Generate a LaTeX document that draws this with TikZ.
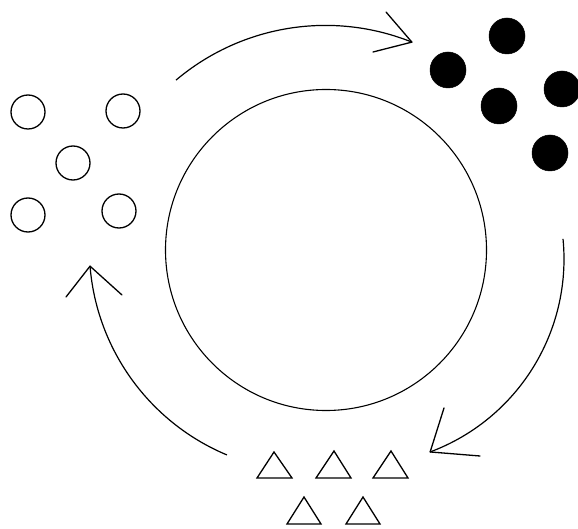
\documentclass[tikz,border=0pt]{standalone}
\tikzset{
  opencirc/.style={circle,draw=black,line width=1.3pt,minimum size=34pt,inner sep=0pt},
  fullcirc/.style={circle,fill=black,draw=black,line width=0.5pt,minimum size=36pt,inner sep=0pt},
  hub/.style={circle,draw=black,line width=1.1pt,minimum size=321pt,inner sep=0pt},
  tri/.style={draw=black,line width=1.3pt,line join=miter},
  flow/.style={draw=black,line width=1.2pt},
  barb/.style={draw=black,line width=1.3pt,line cap=round}
}
\begin{document}
\begin{tikzpicture}[x=1pt,y=-1pt]
\useasboundingbox (0,0) rectangle (578,529);
\fill[white] (0,0) rectangle (578,529);
% central circle
\node[hub] (C) at (326,250) {};
% open circles
\node[opencirc] (o1) at (28,112) {};
\node[opencirc] (o2) at (123,111) {};
\node[opencirc] (o3) at (73,163) {};
\node[opencirc] (o4) at (28,215) {};
\node[opencirc] (o5) at (119,211) {};
% filled circles
\node[fullcirc] (f1) at (507,36) {};
\node[fullcirc] (f2) at (448,70) {};
\node[fullcirc] (f3) at (499,106) {};
\node[fullcirc] (f4) at (562,89) {};
\node[fullcirc] (f5) at (550,153) {};
% triangles
\draw[tri] (257,478) -- (274,452) -- (292,478) -- cycle;
\draw[tri] (316,478) -- (334,451) -- (351,478) -- cycle;
\draw[tri] (373,478) -- (391,451) -- (408,478) -- cycle;
\draw[tri] (287,524) -- (304,497) -- (321,524) -- cycle;
\draw[tri] (346,524) -- (363,497) -- (380,524) -- cycle;
% arrow start points and tips
\coordinate (s1) at ({325.5+231.6*cos(-130.2)},{257+231.6*sin(-130.2)});
\coordinate (s2) at ({358+206*cos(-5.6)},{259+206*sin(-5.6)});
\coordinate (s3) at ({313.4+224.1*cos(112.7)},{248.2+224.1*sin(112.7)});
% top arrow
\draw[flow] (s1) arc[start angle=-130.2, end angle=-68.1, radius=231.6] coordinate (t1);
\draw[barb] (t1) -- (386,12);
\draw[barb] (t1) -- (373,52);
% right arrow
\draw[flow] (s2) arc[start angle=-5.6, end angle=69.5, radius=206] coordinate (t2);
\draw[barb] (t2) -- (444,408);
\draw[barb] (t2) -- (480,456);
% left arrow
\draw[flow] (s3) arc[start angle=112.7, end angle=175.4, radius=224.1] coordinate (t3);
\draw[barb] (t3) -- (66,297);
\draw[barb] (t3) -- (122,295);
\end{tikzpicture}
\end{document}
